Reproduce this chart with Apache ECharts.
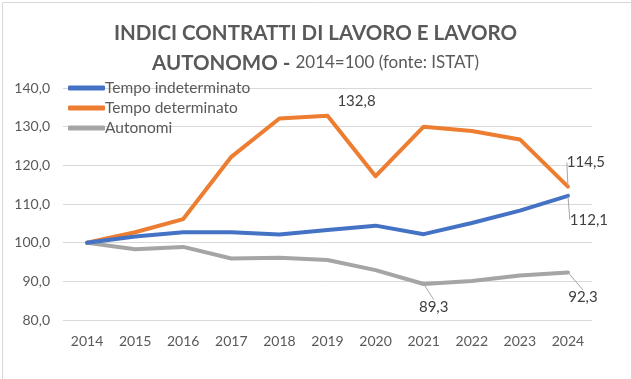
<!DOCTYPE html>
<html>
<head>
<meta charset="utf-8">
<script src="https://cdn.jsdelivr.net/npm/echarts@6/dist/echarts.min.js"></script>
<style>
html,body{margin:0;padding:0;background:#fff;}
#chart{width:631px;height:379px;}
</style>
</head>
<body>
<div id="chart"></div>
<script>
const years = ['2014','2015','2016','2017','2018','2019','2020','2021','2022','2023','2024'];
const indeterminato = [100, 101.6, 102.7, 102.7, 102.1, 103.3, 104.4, 102.2, 105.1, 108.3, 112.1];
const determinato = [100, 102.7, 106.1, 122.2, 132.1, 132.8, 117.2, 130.0, 128.9, 126.7, 114.5];
const autonomi = [100, 98.3, 98.9, 95.9, 96.1, 95.5, 92.9, 89.3, 90.1, 91.5, 92.3];
const seriesNames = ['Tempo indeterminato', 'Tempo determinato', 'Autonomi'];
const yTicks = {min: 80, max: 140, interval: 10};

// which points carry a data label, with label offset (dx, dy) from the point
const labelled = {
  0: {10: [21, 24]},
  1: {5: [29, -15], 10: [18, -24]},
  2: {7: [10, 23], 10: [15, 25]}
};
const colors = ['#4472C4', '#ED7D31', '#A5A5A5'];
const fmt = v => v.toFixed(1).replace('.', ',');

function buildData(arr, si) {
  return arr.map((v, i) => {
    const l = labelled[si][i];
    if (!l) return v;
    return {value: v, label: {show: true}, labelLine: {show: si !== 1 || i !== 5}};
  });
}

const chart = echarts.init(document.getElementById('chart'));
const ff = 'Lato, "Open Sans", sans-serif';
const series = [indeterminato, determinato, autonomi].map((arr, si) => ({
  name: seriesNames[si],
  type: 'line',
  data: buildData(arr, si),
  symbol: 'circle',
  symbolSize: 1,
  showSymbol: true,
  z: 10 - si,
  lineStyle: {width: 4, color: colors[si], cap: 'round', join: 'round'},
  itemStyle: {color: colors[si]},
  label: {
    show: false, position: 'inside', formatter: p => fmt(p.value),
    color: '#404040', fontSize: 15, fontFamily: ff
  },
  labelLine: {show: false, lineStyle: {color: '#A6A6A6', width: 1}, smooth: false, length2: 0},
  labelLayout: p => {
    const l = labelled[si][p.dataIndex];
    return l ? {dx: l[0], dy: l[1]} : {};
  },
  emphasis: {disabled: true},
  animation: false
}));

chart.setOption({
  animation: false,
  backgroundColor: '#fff',
  graphic: [{
    type: 'rect', left: 0, top: 0, silent: true, z: -10,
    shape: {x: 0.5, y: 0.5, width: 630, height: 378},
    style: {fill: 'none', stroke: '#D9D9D9', lineWidth: 1}
  }],
  title: {
    text: '{b|INDICI CONTRATTI DI LAVORO E LAVORO}\n{b|AUTONOMO - }{n|2014=100 (fonte: ISTAT)}',
    left: 'center', top: 13,
    textStyle: {
      rich: {
        b: {fontFamily: ff, fontWeight: 'bold', fontSize: 20.5, color: '#595959', lineHeight: 30},
        n: {fontFamily: ff, fontWeight: 'normal', fontSize: 17, color: '#595959', lineHeight: 30}
      }
    }
  },
  legend: {
    orient: 'vertical', left: 63, top: 75,
    data: seriesNames.map((n, i) => ({name: n, icon: 'roundRect', itemStyle: {color: colors[i]}})),
    itemWidth: 37, itemHeight: 5, itemGap: 4,
    textStyle: {fontFamily: ff, fontSize: 15.5, color: '#595959', lineHeight: 16, padding: [0, 0, 0, -5]},
    selectedMode: false
  },
  grid: {left: 63, right: 39, top: 88, bottom: 59, containLabel: false},
  xAxis: {
    type: 'category', data: years, boundaryGap: true,
    axisLine: {show: false}, axisTick: {show: false},
    axisLabel: {color: '#595959', fontSize: 14, fontFamily: ff, margin: 14}
  },
  yAxis: {
    type: 'value', min: yTicks.min, max: yTicks.max, interval: yTicks.interval,
    axisLine: {show: false}, axisTick: {show: false},
    splitLine: {lineStyle: {color: '#D9D9D9', width: 1}},
    axisLabel: {color: '#595959', fontSize: 14, fontFamily: ff, margin: 13, formatter: v => fmt(v)}
  },
  series: series
});
</script>
</body>
</html>
